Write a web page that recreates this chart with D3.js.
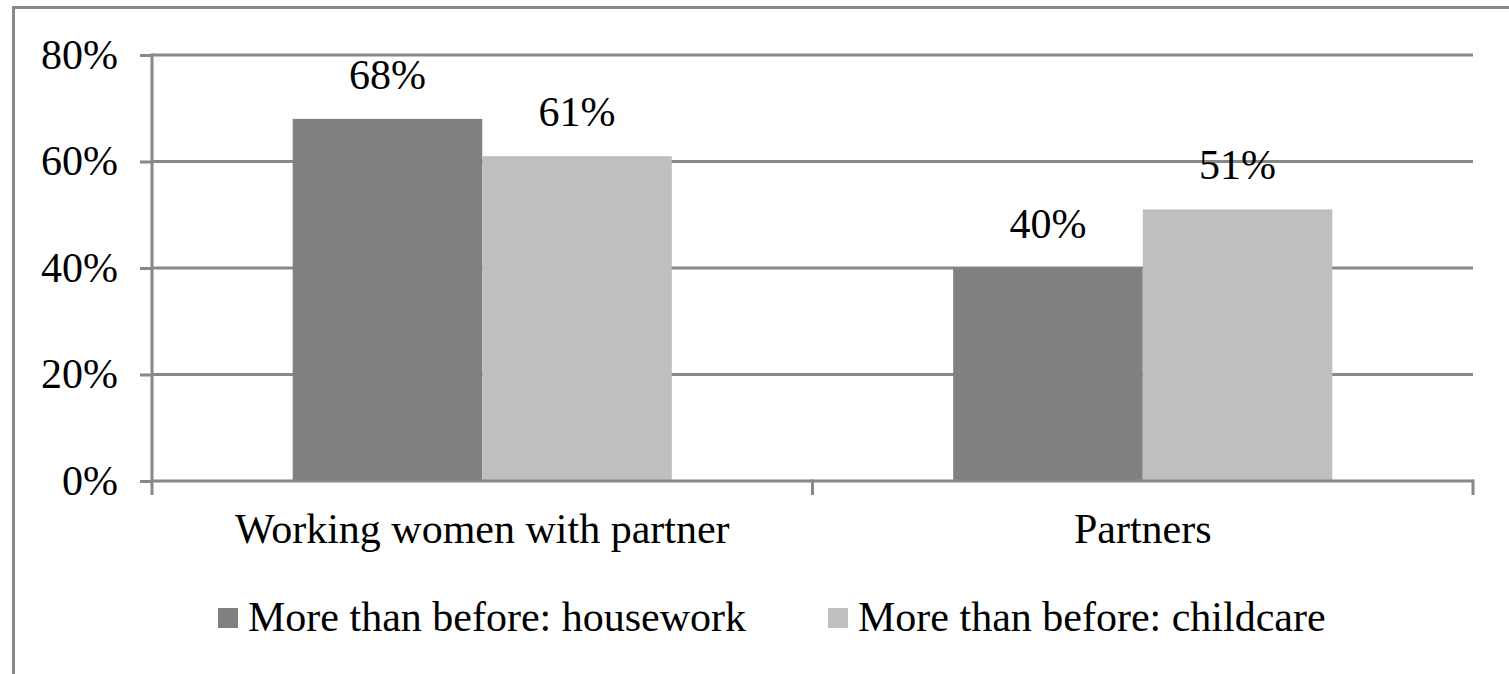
<!DOCTYPE html>
<html>
<head>
<meta charset="utf-8">
<script src="https://cdn.jsdelivr.net/npm/d3@7"></script>
<style>
  html, body { margin: 0; padding: 0; background: #fff; overflow: hidden; }
  svg { display: block; }
</style>
</head>
<body>
<svg id="chart" width="1509" height="674"></svg>
<script>
const categories = ["Working women with partner", "Partners"];
const seriesNames = ["More than before: housework", "More than before: childcare"];
const housework = [0.68, 0.40];
const childcare = [0.61, 0.51];
const yTicks = [0, 0.2, 0.4, 0.6, 0.8];
const seriesColors = ["#808080", "#bfbfbf"];

const seriesValues = [housework, childcare];
const axisColor = "#888888";
const fontSize = 42;
const serif = "'Times New Roman', 'Liberation Serif', 'DejaVu Serif', serif";

const svg = d3.select("#chart");

function styleText(sel) {
  return sel.style("font-family", serif).style("font-size", fontSize + "px").style("fill", "#000");
}

// outer chart border (extends beyond right/bottom edges)
svg.append("rect")
  .attr("x", 13.5).attr("y", 7.5)
  .attr("width", 1700).attr("height", 800)
  .attr("fill", "none")
  .attr("stroke", axisColor)
  .attr("stroke-width", 3);

const plot = { left: 152, right: 1473, top: 55, bottom: 481 };

const y = d3.scaleLinear().domain([0, 0.8]).range([plot.bottom, plot.top]);
const x0 = d3.scaleBand().domain(categories)
  .range([plot.left, plot.right]).paddingInner(0.426).paddingOuter(0.213);
const x1 = d3.scaleBand().domain(d3.range(seriesNames.length))
  .range([0, x0.bandwidth()]).padding(0);

// gridlines
svg.append("g").selectAll("line").data(yTicks.filter(d => d > 0)).join("line")
  .attr("x1", plot.left).attr("x2", plot.right)
  .attr("y1", d => y(d)).attr("y2", d => y(d))
  .attr("stroke", axisColor).attr("stroke-width", 3);

// bars
const groups = svg.append("g").selectAll("g").data(categories).join("g")
  .attr("transform", c => `translate(${x0(c)},0)`);

groups.each(function(c, ci) {
  const g = d3.select(this);
  seriesValues.forEach((vals, si) => {
    const v = vals[ci];
    g.append("rect")
      .attr("x", x1(si)).attr("width", x1.bandwidth())
      .attr("y", y(v)).attr("height", y(0) - y(v))
      .attr("fill", seriesColors[si]);
    styleText(g.append("text")
      .attr("x", x1(si) + x1.bandwidth() / 2)
      .attr("y", y(v) - 30)
      .attr("text-anchor", "middle"))
      .text(d3.format(".0%")(v));
  });
});

// y axis
const yAxis = d3.axisLeft(y).tickValues(yTicks).tickFormat(d3.format(".0%"))
  .tickSize(12).tickPadding(22);
const gy = svg.append("g").attr("transform", `translate(${plot.left},0)`).call(yAxis)
  .attr("font-family", null).attr("font-size", null);
gy.select(".domain").attr("stroke", axisColor).attr("stroke-width", 3)
  .attr("d", `M0,${plot.top - 1.5}V${plot.bottom}`);
gy.selectAll(".tick line").attr("stroke", axisColor).attr("stroke-width", 3);
styleText(gy.selectAll(".tick text")).attr("dy", "0.31em");

// x axis
const xAxis = d3.axisBottom(x0).tickSize(0).tickPadding(0);
const gx = svg.append("g").attr("transform", `translate(0,${plot.bottom})`).call(xAxis)
  .attr("font-family", null).attr("font-size", null);
gx.select(".domain").attr("stroke", axisColor).attr("stroke-width", 3)
  .attr("d", `M${plot.left},0H${plot.right}`);
styleText(gx.selectAll(".tick text")).attr("y", 62).attr("dy", 0);
// category boundary ticks
const bounds = [plot.left, ...categories.slice(1).map(c => x0(c) - x0.step() * x0.paddingInner() / 2), plot.right];
gx.append("g").selectAll("line").data(bounds).join("line")
  .attr("x1", d => d).attr("x2", d => d)
  .attr("y1", -1.5).attr("y2", 14)
  .attr("stroke", axisColor).attr("stroke-width", 3);

// legend
const legend = svg.append("g").attr("transform", "translate(218,0)");
let lx = 0;
seriesNames.forEach((name, i) => {
  const item = legend.append("g").attr("transform", `translate(${lx},0)`);
  item.append("rect").attr("x", 0).attr("y", 608).attr("width", 20).attr("height", 20)
    .attr("fill", seriesColors[i]);
  const t = styleText(item.append("text").attr("x", 30).attr("y", 631)).text(name);
  lx += 30 + t.node().getComputedTextLength() + 82;
});
</script>
</body>
</html>
